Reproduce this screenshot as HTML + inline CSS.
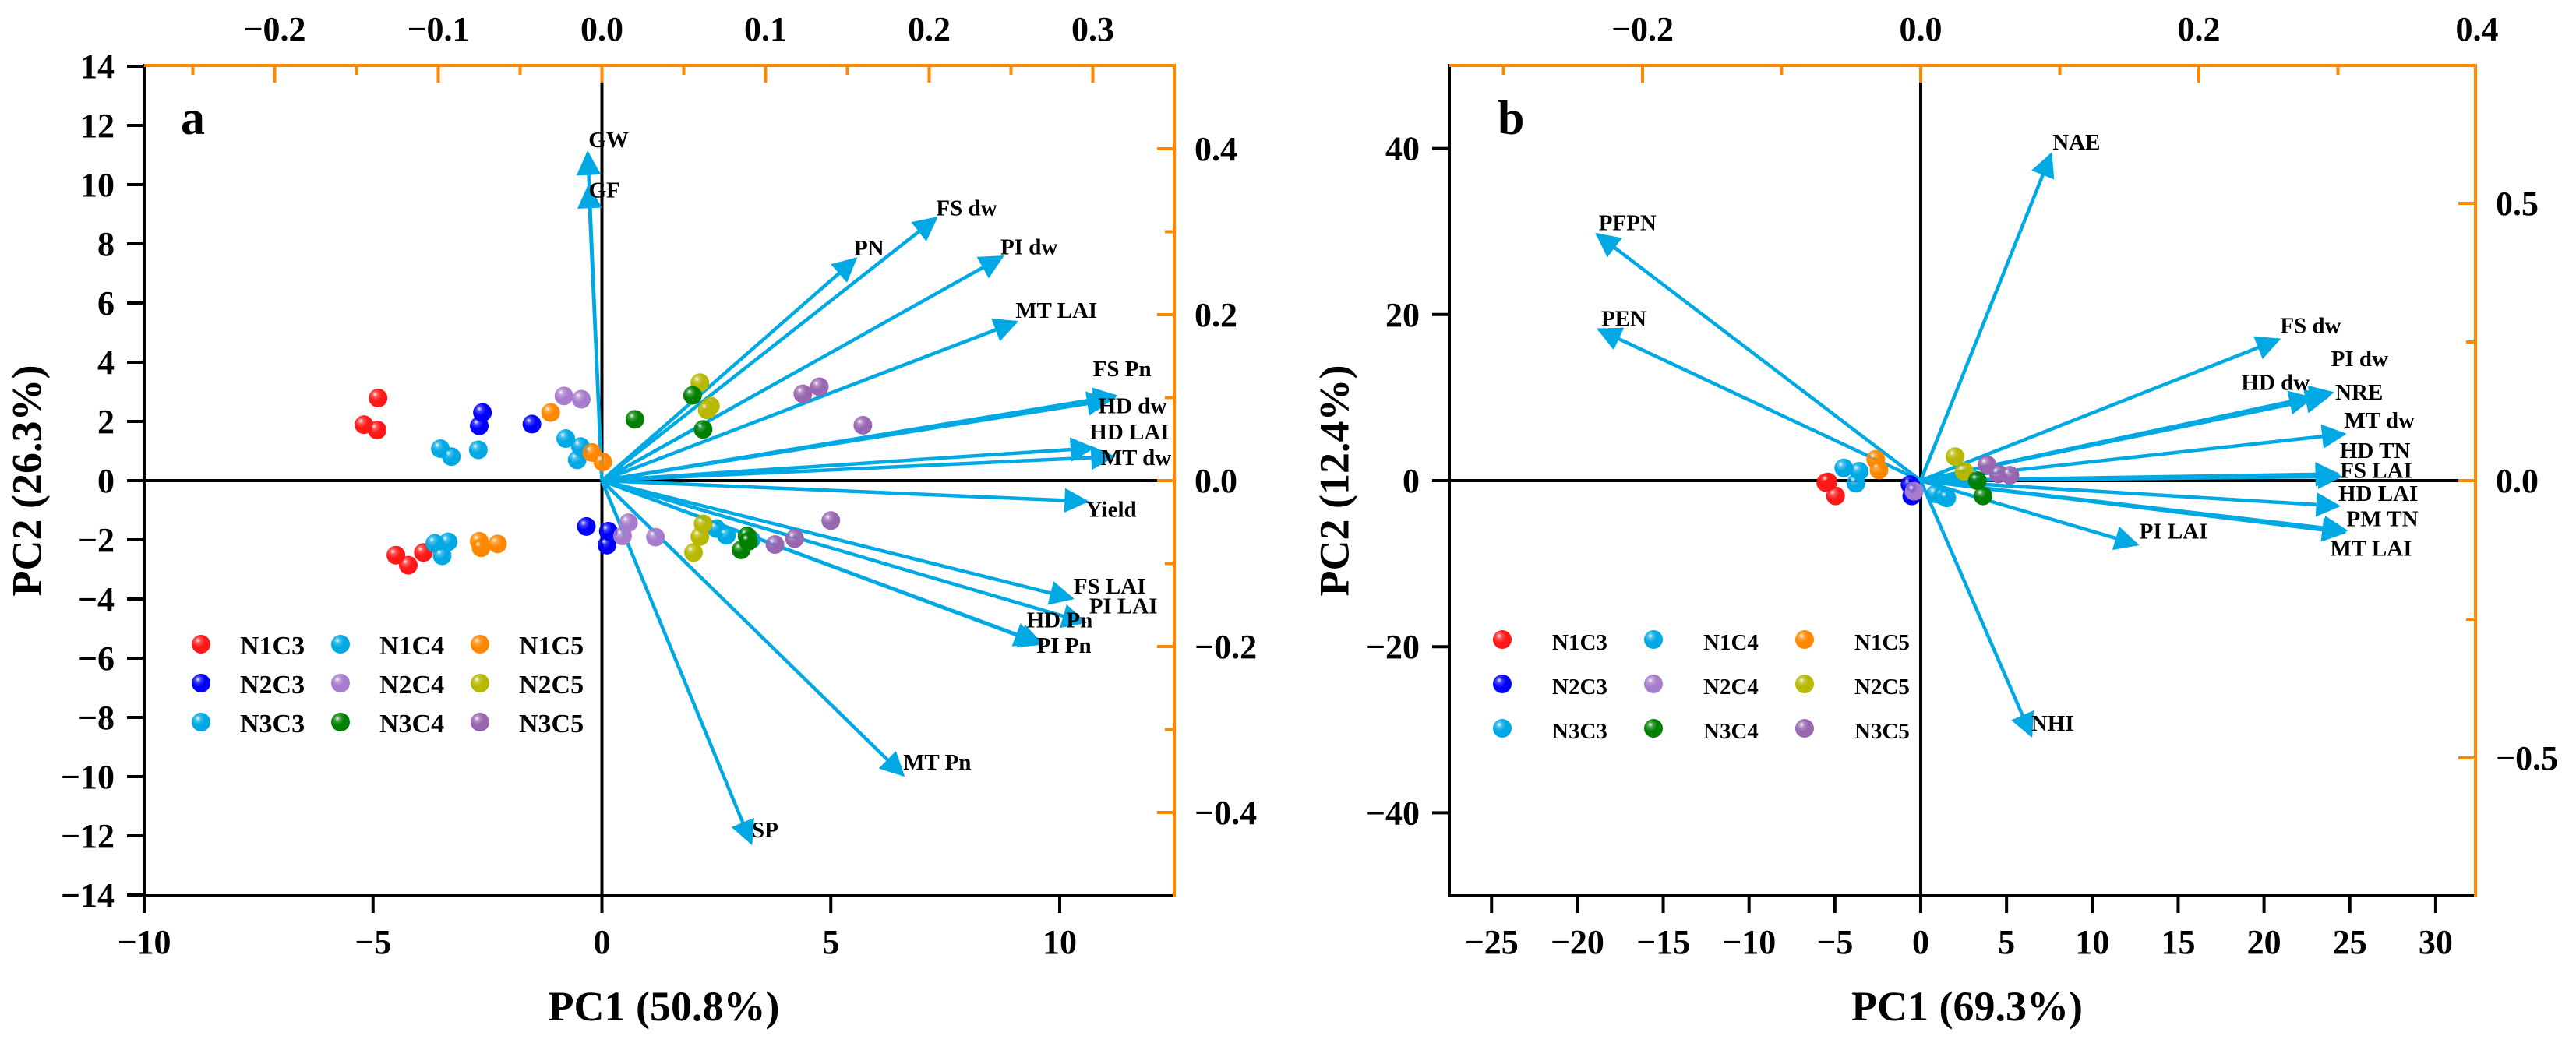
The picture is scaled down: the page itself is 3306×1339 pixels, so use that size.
<!DOCTYPE html>
<html><head><meta charset="utf-8"><style>
html,body{margin:0;padding:0;background:#fff}
svg{display:block}
text{font-family:"Liberation Serif",serif;font-weight:bold;fill:#000}
</style></head><body>
<svg id="chart" xmlns="http://www.w3.org/2000/svg" width="3306" height="1339" viewBox="0 0 3306 1339">
<defs>
<marker id="ah" viewBox="0 0 10 10" refX="9" refY="5" markerWidth="9" markerHeight="7" markerUnits="strokeWidth" orient="auto"><path d="M0,0 L10,5 L0,10 z" fill="#00a8e4"/></marker>
</defs>
<g id="pa"></g>
<g id="pb"></g>
</svg>
<script>
// ---------- Panel A data ----------
const aLoadNames = ["GW","GF","PN","FS dw","PI dw","MT LAI","FS Pn","HD dw","HD LAI","MT dw","Yield","FS LAI","PI LAI","HD Pn","PI Pn","MT Pn","SP"];
const aLoadX = [-0.31,-0.29,5.54,7.30,8.74,9.05,11.22,11.08,10.72,11.17,10.59,10.27,10.54,9.50,9.60,6.58,3.26];
const aLoadY = [11.07,9.95,7.49,8.87,7.56,5.36,2.86,2.72,1.10,0.81,-0.70,-3.98,-4.79,-5.47,-5.51,-9.95,-12.24];
const aGroups = ["N1C3","N2C3","N3C3","N1C4","N2C4","N3C4","N1C5","N2C5","N3C5"];
const aScoreGroup = ["N1C3","N1C3","N1C3","N1C3","N1C3","N1C3",
 "N2C3","N2C3","N2C3","N2C3","N2C3","N2C3",
 "N3C3","N3C3","N3C3","N3C3","N3C3","N3C3",
 "N1C4","N1C4","N1C4","N1C4","N1C4","N1C4",
 "N1C5","N1C5","N1C5","N1C5","N1C5","N1C5",
 "N2C4","N2C4","N2C4","N2C4","N2C4",
 "N2C5","N2C5","N2C5","N2C5","N2C5","N2C5",
 "N3C4","N3C4","N3C4","N3C4","N3C4","N3C4",
 "N3C5","N3C5","N3C5","N3C5","N3C5","N3C5"];
const aScoreX = [-4.89,-5.20,-4.91,-4.50,-4.23,-3.90,
 -2.61,-2.68,-1.53,-0.34,0.14,0.11,
 -3.53,-3.29,-2.70,-3.65,-3.36,-3.49,
 -0.79,-0.47,-0.54,2.50,2.72,3.26,
 -1.12,-0.22,0.02,-2.68,-2.64,-2.28,
 -0.83,-0.45,0.58,0.45,1.17,
 2.14,2.37,2.30,2.21,2.14,2.00,
 1.98,0.72,2.21,3.17,3.04,3.20,
 4.39,4.75,5.70,5.00,4.21,3.78];
const aScoreY = [2.79,1.89,1.71,-2.52,-2.86,-2.43,
 2.30,1.85,1.91,-1.55,-1.71,-2.18,
 1.08,0.81,1.04,-2.12,-2.07,-2.54,
 1.42,1.15,0.70,-1.62,-1.85,-2.00,
 2.30,0.95,0.63,-2.05,-2.27,-2.14,
 2.86,2.75,-1.42,-1.87,-1.91,
 3.31,2.52,2.39,-1.46,-1.89,-2.43,
 2.88,2.07,1.73,-1.87,-2.34,-2.05,
 2.93,3.17,1.87,-1.35,-1.96,-2.16];
const aBottomTicks = [-10,-5,0,5,10];
const aLeftTicks = [-14,-12,-10,-8,-6,-4,-2,0,2,4,6,8,10,12,14];
const aTopTicks = [-0.2,-0.1,0.0,0.1,0.2,0.3];
const aRightTicks = [-0.4,-0.2,0.0,0.2,0.4];

// ---------- Panel B data ----------
const bLoadNames = ["NAE","PFPN","PEN","FS dw","PI dw","HD dw","NRE","MT dw","HD TN","FS LAI","HD LAI","PM TN","MT LAI","PI LAI","NHI"];
const bLoadX = [7.59,-18.85,-18.75,20.85,23.95,22.76,23.70,24.67,24.28,24.43,24.33,24.76,24.67,12.60,6.44];
const bLoadY = [39.28,29.66,18.20,16.99,10.58,9.94,10.10,5.61,0.80,0.48,-3.05,-6.01,-6.25,-7.70,-30.70];
const bScoreGroup = ["N1C3","N1C3","N1C3","N1C4","N1C4","N1C4","N1C5","N1C5","N2C3","N2C3","N2C4","N2C5","N2C5","N3C5","N3C5","N3C5","N3C3","N3C3","N3C3","N3C4","N3C4"];
const bScoreX = [-5.53,-5.40,-4.96,-4.48,-3.58,-3.77,-2.62,-2.43,-0.62,-0.52,-0.38,2.00,2.53,3.86,4.53,5.20,0.86,1.29,1.52,3.63,3.30];
const bScoreY = [-0.24,-0.16,-1.84,1.52,1.12,-0.32,2.57,1.28,-0.48,-1.84,-1.28,2.89,1.12,1.92,0.80,0.64,-1.60,-1.84,-2.08,-1.84,0.00];
const bBottomTicks = [-25,-20,-15,-10,-5,0,5,10,15,20,25,30];
const bLeftTicks = [-40,-20,0,20,40];
const bTopTicks = [-0.2,0.0,0.2,0.4];
const bRightTicks = [-0.5,0.0,0.5];

const groupColor = {N1C3:"#ff1818",N2C3:"#0000ff",N3C3:"#00a8e4",N1C4:"#00a8e4",N2C4:"#a87ccc",N3C4:"#008000",N1C5:"#ff8800",N2C5:"#b8b800",N3C5:"#9966b0"};

// label offsets (style, pixels)
const aLblOff = [[1,-14],[0,8],[-2,-11],[0,-10],[-2,-10],[-1,-12],[-29,-32],[-14,10],[-4,-18],[-16,4],[-1,13],[2,-13],[6,-18],[-13,-26],[-6,5],[0,-14],[1,-14]];
const bLblOff = [[2,-13],[2,-12],[3,-11],[2,-15],[-1,-41],[-90,-17],[10,-3],[0,-15],[3,-27],[0,-5],[0,-13],[1,-12],[-18,23],[3,-14],[0,-13]];

const NS="http://www.w3.org/2000/svg";
function mk(parent,tag,attrs,txt){const e=document.createElementNS(NS,tag);for(const k in attrs)e.setAttribute(k,attrs[k]);if(txt!==undefined)e.textContent=txt;parent.appendChild(e);return e;}
const defs=document.querySelector('defs');
Object.keys(groupColor).forEach(g=>{
  const rg=mk(defs,'radialGradient',{id:'g'+g,cx:'0.38',cy:'0.35',r:'0.7',fx:'0.33',fy:'0.3'});
  mk(rg,'stop',{offset:'0',"stop-color":'#ffffff'});
  mk(rg,'stop',{offset:'0.22',"stop-color":groupColor[g],"stop-opacity":'0.75'});
  mk(rg,'stop',{offset:'0.5',"stop-color":groupColor[g]});
  mk(rg,'stop',{offset:'1',"stop-color":groupColor[g]});
});
function fmt(v,d){const s=Math.abs(v).toFixed(d);return (v<-1e-9?"\u2212":"")+s;}

function panel(cfg){
  const G=document.getElementById(cfg.id);
  const L=cfg.left,R=cfg.right,T=84,B=1150;
  const sx=v=>cfg.x0+v*cfg.kx, sy=v=>617-v*cfg.ky;
  const tx=v=>cfg.x0+v*cfg.ktx, ry=v=>617-v*cfg.kry;
  // zero lines
  let e=mk(G,'line',{x1:L,x2:R-14,y1:sy(0),y2:sy(0),stroke:'#000','stroke-width':4});
  
  
  e=mk(G,'line',{x1:sx(0),x2:sx(0),y1:106,y2:B,stroke:'#000','stroke-width':4});
  
  
  // loadings arrows
  cfg.lx.forEach((v,i)=>{
    const a=mk(G,'line',{x1:sx(0),y1:sy(0),x2:sx(v),y2:sy(cfg.ly[i]),stroke:'#00a8e4','stroke-width':4.5,'marker-end':'url(#ah)'});
    
    
  });
  // scores
  cfg.px.forEach((v,i)=>{
    const c=mk(G,'circle',{cx:sx(v),cy:sy(cfg.py[i]),r:12,fill:'url(#g'+cfg.pg[i]+')'});
    
    
  });
  // loading labels
  cfg.lx.forEach((v,i)=>{
    const t=mk(G,'text',{x:sx(v)+cfg.off[i][0],y:sy(cfg.ly[i])+cfg.off[i][1],'font-size':29,'dominant-baseline':'middle'},cfg.names[i]);
    
    
  });
  // frame
  e=mk(G,'line',{x1:L,x2:L,y1:T-2,y2:B+2,stroke:'#000','stroke-width':4});
  
  
  e=mk(G,'line',{x1:L-2,x2:R,y1:B,y2:B,stroke:'#000','stroke-width':4});
  
  
  e=mk(G,'line',{x1:L,x2:R+2,y1:T,y2:T,stroke:'#ff8800','stroke-width':4});
  
  
  e=mk(G,'line',{x1:R,x2:R,y1:T,y2:B+2,stroke:'#ff8800','stroke-width':4});
  
  
  // bottom ticks
  cfg.bt.forEach(v=>{
    mk(G,'line',{x1:sx(v),x2:sx(v),y1:B,y2:B+22,stroke:'#000','stroke-width':4});
    const t=mk(G,'text',{x:sx(v),y:1224,'font-size':44,'text-anchor':'middle'},fmt(v,0));
    
    
  });
  cfg.lt.forEach(v=>{
    mk(G,'line',{x1:L-22,x2:L,y1:sy(v),y2:sy(v),stroke:'#000','stroke-width':4});
    const t=mk(G,'text',{x:L-38,y:sy(v)+15,'font-size':44,'text-anchor':'end'},fmt(v,0));
    
    
  });
  // top ticks with minors
  const ts=cfg.tt[1]-cfg.tt[0];
  for(let v=cfg.tt[0]-ts*1.5;v<=cfg.tt[cfg.tt.length-1]+ts;v+=ts/2){
    const x=tx(v); if(x<L+4||x>R-4) continue;
    const major=cfg.tt.some(u=>Math.abs(u-v)<1e-6);
    mk(G,'line',{x1:x,x2:x,y1:T,y2:T+(major?22:12),stroke:'#ff8800','stroke-width':4});
  }
  cfg.tt.forEach(v=>{
    const t=mk(G,'text',{x:tx(v),y:52,'font-size':44,'text-anchor':'middle'},fmt(v,1));
    
    
  });
  const rs=cfg.rt[1]-cfg.rt[0];
  for(let v=cfg.rt[0]-rs;v<=cfg.rt[cfg.rt.length-1]+rs;v+=rs/2){
    const y=ry(v); if(y<T+4||y>B-4) continue;
    const major=cfg.rt.some(u=>Math.abs(u-v)<1e-6);
    mk(G,'line',{x1:R-(major?22:12),x2:R,y1:y,y2:y,stroke:'#ff8800','stroke-width':4});
  }
  cfg.rt.forEach(v=>{
    const t=mk(G,'text',{x:R+26,y:ry(v)+15,'font-size':44},fmt(v,cfg.rd));
    
    
  });
  // titles
  let t=mk(G,'text',{x:(L+R)/2+6,y:1310,'font-size':54,'text-anchor':'middle'},cfg.xt);
  
  
  t=mk(G,'text',{x:cfg.ytx,y:617,'font-size':54,'text-anchor':'middle',transform:`rotate(-90 ${cfg.ytx} 617)`,'dominant-baseline':'middle'},cfg.yt);
  
  
  t=mk(G,'text',{x:cfg.letX,y:172,'font-size':62},cfg.letter);
  
  
  // legend
  const order=[["N1C3","N1C4","N1C5"],["N2C3","N2C4","N2C5"],["N3C3","N3C4","N3C5"]];
  order.forEach((row,ri)=>row.forEach((g,ci)=>{
    const lg=mk(G,'g',{});
    
    
    const mx=cfg.legX+ci*cfg.legDX, my=cfg.legY+ri*cfg.legDY;
    mk(lg,'circle',{cx:mx,cy:my,r:12,fill:'url(#g'+g+')'});
    mk(lg,'text',{x:mx+cfg.legTX,y:my+13,'font-size':cfg.legFS},g);
  }));
}
panel({id:'pa',left:185,right:1507,x0:772.5,kx:58.75,ky:38,ktx:2100,kry:1065,
  names:aLoadNames,lx:aLoadX,ly:aLoadY,off:aLblOff,px:aScoreX,py:aScoreY,pg:aScoreGroup,
  bt:aBottomTicks,lt:aLeftTicks,tt:aTopTicks,rt:aRightTicks,rd:1,
  xt:"PC1 (50.8%)",yt:"PC2 (26.3%)",ytx:40,letter:"a",letX:232,
  legX:258,legY:827,legDX:179,legDY:50,legTX:50,legFS:34});
panel({id:'pb',left:1860,right:3177,x0:2465,kx:22.03,ky:10.66,ktx:1785,kry:712,
  names:bLoadNames,lx:bLoadX,ly:bLoadY,off:bLblOff,px:bScoreX,py:bScoreY,pg:bScoreGroup,
  bt:bBottomTicks,lt:bLeftTicks,tt:bTopTicks,rt:bRightTicks,rd:1,
  xt:"PC1 (69.3%)",yt:"PC2 (12.4%)",ytx:1718,letter:"b",letX:1922,
  legX:1928,legY:821,legDX:194,legDY:57,legTX:64,legFS:29});
</script>
</body></html>
